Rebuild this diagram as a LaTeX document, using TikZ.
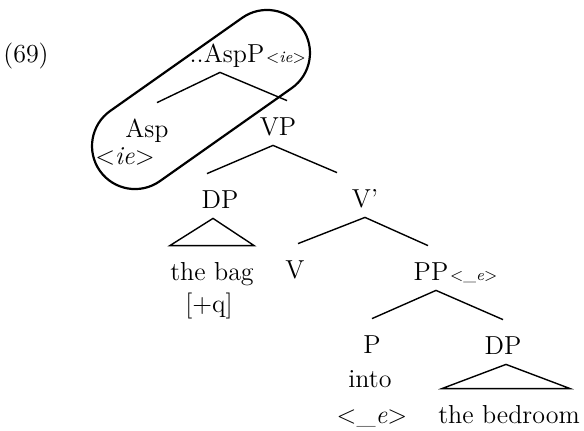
\documentclass[tikz,border=0pt]{standalone}
\usetikzlibrary{shapes.misc}

\begin{document}
\begin{tikzpicture}[
    x=0.5pt, y=-0.5pt,
    cat/.style={
        font=\fontsize{13}{15}\selectfont,
        anchor=base,
        text height=12pt,
        text depth=0pt,
        inner xsep=0pt,
        inner ysep=5pt
    },
    word/.style={
        font=\fontsize{13}{15}\selectfont,
        anchor=base,
        inner sep=0pt
    },
    feat/.style={
        font=\fontsize{8}{9}\selectfont,
        anchor=base west,
        inner sep=0pt
    },
    branch/.style={
        draw,
        line width=0.7pt,
        line join=miter
    },
    hull/.style={
        rounded rectangle,
        draw,
        line width=1.1pt,
        minimum width=123.75pt,
        minimum height=43pt,
        inner sep=0pt,
        rotate=35.2
    }
]

\useasboundingbox (0,0) rectangle (584,430);

%% --- Numero ---
\node[word] (Ex) at (26,62) {(69)};

%% --- Noeuds de l'arbre ---
\node[cat] (AspP) at (227,62)  {..AspP};
\node[feat] (AspPf) at ([xshift=0.5pt]AspP.base east) {<\textit{ie}>};
\node[cat] (Asp)  at (147,137) {Asp};
\node[word] (Aspf) at (125,164) {<\textit{ie}>};
\node[cat] (VP)   at (278,135) {VP};
\node[cat] (DPa)  at (220,208) {DP};
\node[cat] (Vbar) at (365,207) {V'};
\node[cat] (Bag)  at (212,280) {the bag};
\node[word] (Q)   at (209,312) {[+q]};
\node[cat] (V)    at (295,278) {V};
\node[cat] (PP)   at (431,280) {PP};
\node[feat] (PPf) at ([xshift=0.5pt]PP.base east) {<\_\textit{e}>};
\node[cat] (P)    at (372,353) {P};
\node[word] (Into) at (370,387) {into};
\node[word] (Pf)  at (372,423) {<\_\textit{e}>};
\node[cat] (DPb)  at (503,354) {DP};
\node[cat] (Room) at (509,423) {the bedroom};

%% --- Branches ---
\draw[branch] ([xshift=5pt]Asp.north) -- ([xshift=-3.5pt]AspP.south) -- ([xshift=4.5pt]VP.north);
\draw[branch] ([xshift=-6.5pt]DPa.north) -- ([xshift=-2.5pt]VP.south) -- ([xshift=-14pt]Vbar.north);
\draw[branch] ([xshift=1.5pt]V.north) -- (Vbar.south) -- ([xshift=-1.5pt]PP.north);
\draw[branch] (P.north) -- ([xshift=2.5pt]PP.south) -- (DPb.north);

%% --- Triangles ---
\draw[branch] ([xshift=-3.5pt]DPa.south) -- (Bag.north west) -- (Bag.north east) -- cycle;
\draw[branch] ([xshift=1.5pt]DPb.south) -- ([xshift=2pt]Room.north west) -- ([xshift=-5pt]Room.north east) -- cycle;

%% --- Enveloppe ---
\node[hull] (Hull) at (201,99.5) {};

\end{tikzpicture}
\end{document}
